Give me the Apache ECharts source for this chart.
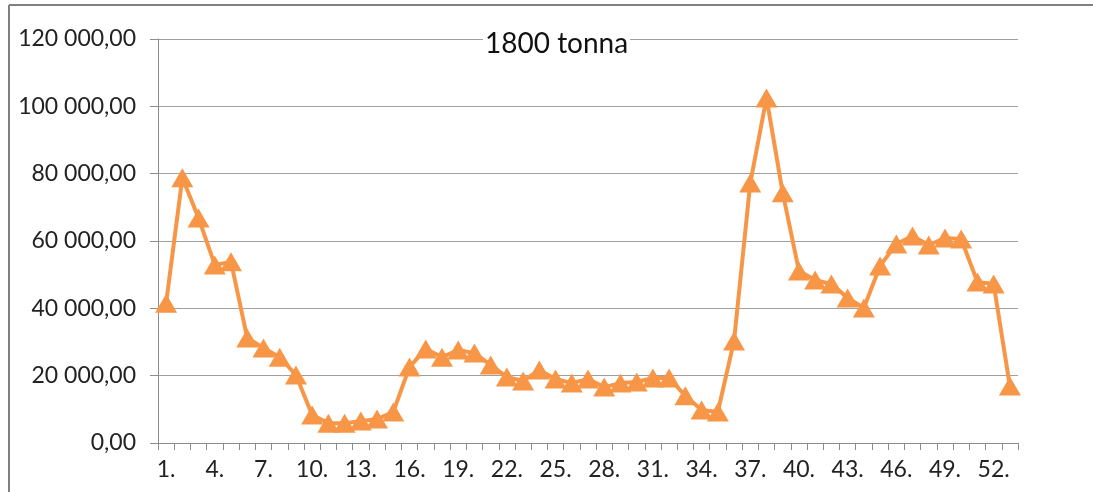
<!DOCTYPE html>
<html>
<head>
<meta charset="utf-8">
<script src="https://cdn.jsdelivr.net/npm/echarts@6/dist/echarts.min.js"></script>
<style>
  html, body { margin: 0; padding: 0; background: #fff; }
  #main { width: 1093px; height: 492px; }
</style>
</head>
<body>
<div id="main"></div>
<script>
// weeks 1..53
const weeks = [];
for (let i = 1; i <= 53; i++) weeks.push(i + '.');

const tonnes = [
  41500, 78800, 66800, 52900, 53800, 31200, 28200, 25500, 20200, 8300,
  5900, 5900, 6500, 7100, 9200, 22600, 27900, 25500, 27600, 26700,
  23200, 19600, 18400, 21700, 19000, 17800, 19000, 16600, 17800, 18100,
  19300, 19300, 14000, 9800, 9200, 30300, 77200, 102500, 74300, 51100,
  48400, 47200, 43100, 40100, 52600, 59100, 61500, 58800, 60900, 60600,
  47800, 47200, 16900
];

const titleText = '1800 tonna';

function fmt(v) {
  let s = Math.round(v).toString().replace(/\B(?=(\d{3})+(?!\d))/g, ' ');
  return s + ',00';
}

var myChart = echarts.init(document.getElementById('main'));
var option = {
  animation: false,
  backgroundColor: '#fff',
  title: {
    text: titleText,
    left: 483,
    top: 30,
    padding: [0, 2],
    backgroundColor: '#fff',
    textStyle: { fontFamily: 'Lato', fontSize: 28, fontWeight: 'normal', color: '#111' }
  },
  graphic: [
    { type: 'line', shape: { x1: 9, y1: 5, x2: 1093, y2: 5 }, style: { stroke: '#808080', lineWidth: 2 } },
    { type: 'line', shape: { x1: 9, y1: 5, x2: 9, y2: 492 }, style: { stroke: '#808080', lineWidth: 2 } }
  ],
  grid: { left: 158, right: 75, top: 39, bottom: 49 },
  xAxis: {
    type: 'category',
    data: weeks,
    boundaryGap: true,
    axisLine: { lineStyle: { color: '#8c8c8c', width: 1 } },
    axisTick: { show: true, interval: 0, length: 7, lineStyle: { color: '#8c8c8c' } },
    axisLabel: { interval: 2, margin: 15, fontFamily: 'Lato', fontSize: 23, color: '#222' }
  },
  yAxis: {
    type: 'value',
    min: 0,
    max: 120000,
    interval: 20000,
    axisLine: { show: true, lineStyle: { color: '#8c8c8c', width: 1 } },
    axisTick: { show: true, length: 8, lineStyle: { color: '#8c8c8c' } },
    splitLine: { lineStyle: { color: '#a0a0a0', width: 1 } },
    axisLabel: { margin: 22, fontFamily: 'Lato', fontSize: 23, color: '#222', formatter: fmt }
  },
  series: [
    {
      name: titleText,
      type: 'line',
      data: tonnes,
      symbol: 'triangle',
      symbolSize: [22, 19],
      showAllSymbol: true,
      lineStyle: { color: '#F79646', width: 4 },
      itemStyle: { color: '#F79646' }
    }
  ]
};
myChart.setOption(option);
</script>
</body>
</html>
